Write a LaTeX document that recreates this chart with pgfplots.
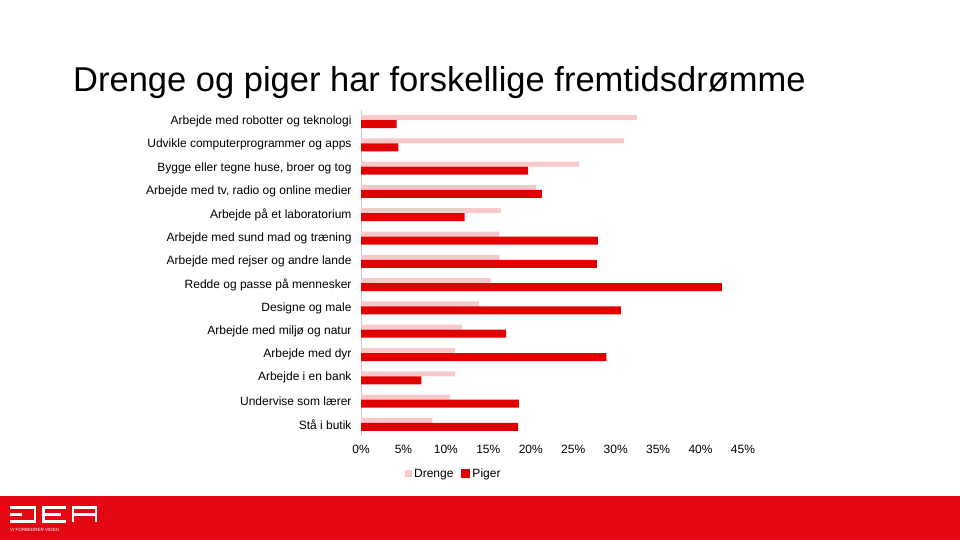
\documentclass[border=0pt]{standalone}
\usepackage{pgfplots}
\pgfplotsset{compat=1.18}
\usepackage{fontspec}
\setmainfont{Liberation Sans}
\definecolor{piger}{HTML}{E00000}
\definecolor{drenge}{HTML}{F8C8CB}
\definecolor{dearod}{HTML}{E30613}
\definecolor{akse}{HTML}{C8C8C8}

% rows from the bottom (Stå i butik) to the top (robotter)
\pgfplotstableread{
row drenge piger
0  8.4  18.5
1  10.5 18.6
2  11.1 7.1
3  11.1 28.9
4  11.9 17.1
5  13.9 30.6
6  15.3 42.5
7  16.3 27.8
8  16.3 27.9
9  16.5 12.2
10 20.6 21.3
11 25.7 19.7
12 31.0 4.4
13 32.5 4.2
}\drommedata

\begin{document}
\begin{tikzpicture}
\path[use as bounding box] (0pt,0pt) rectangle (960pt,540pt);

% footer band with logo
\fill[dearod] (0pt,0pt) rectangle (960pt,43.5pt);
\begin{scope}[white, line width=2.2pt, line cap=butt, x=1pt, y=1pt]
  \draw (10,32.5) -- (35,32.5) -- (35,18.5) -- (10,18.5);
  \draw (10,25.5) -- (22,25.5);
  \draw (66,32.5) -- (43.5,32.5) -- (43.5,18.5) -- (66,18.5);
  \draw (43.5,25.5) -- (61,25.5);
  \draw (73,17.5) -- (73,32.5) -- (96,32.5) -- (96,17.5);
  \draw (73,25.5) -- (96,25.5);
\end{scope}
\node[anchor=west, white, inner sep=0pt, font=\fontsize{4.5}{5}\selectfont] at (10pt,10pt) {VI FORBEDRER VIDEN};

\node[anchor=base west, inner sep=0pt, font=\fontsize{34.5}{36}\selectfont] at (73pt,448pt) {Drenge og piger har forskellige fremtidsdrømme};

\begin{axis}[
    at={(361pt,103.9pt)}, anchor=south west,
    scale only axis,
    width=382pt, height=326.2pt,
    xmin=0, xmax=45,
    ymin=-0.5, ymax=13.5,
    axis x line=bottom, axis y line=left,
    x axis line style={draw=none},
    y axis line style={draw=akse, line width=0.8pt, -},
    xtick={0,5,...,45},
    xticklabels={0\%,5\%,10\%,15\%,20\%,25\%,30\%,35\%,40\%,45\%},
    ytick={0,...,13},
    yticklabels={Stå i butik, Undervise som lærer, Arbejde i en bank, Arbejde med dyr,
      Arbejde med miljø og natur, Designe og male, Redde og passe på mennesker,
      Arbejde med rejser og andre lande, Arbejde med sund mad og træning,
      Arbejde på et laboratorium, {Arbejde med tv, radio og online medier},
      {Bygge eller tegne huse, broer og tog}, Udvikle computerprogrammer og apps,
      Arbejde med robotter og teknologi},
    tick style={draw=none},
    major tick length=0pt,
    ticklabel style={font=\fontsize{12}{14}\selectfont},
    xticklabel style={anchor=base, yshift=-17.4pt},
    yticklabel style={xshift=-6pt},
    legend columns=2,
    legend style={at={(0.243,-0.116)}, anchor=center, draw=none,
      font=\fontsize{12}{14}\selectfont,
      /tikz/every even column/.append style={column sep=6pt}},
    clip=false,
]
\addplot[xbar, draw=none, fill=drenge, bar width=5pt, bar shift=4pt,
  legend image code/.code={\fill[drenge] (0pt,-3.5pt) rectangle (7pt,3.5pt);}]
  table[x=drenge, y=row] {\drommedata};
\addlegendentry{Drenge}
\addplot[xbar, draw=none, fill=piger, bar width=8pt, bar shift=-2.5pt,
  legend image code/.code={\fill[piger] (0pt,-4.5pt) rectangle (9pt,4.5pt);}]
  table[x=piger, y=row] {\drommedata};
\addlegendentry{Piger}
\end{axis}
\end{tikzpicture}
\end{document}
